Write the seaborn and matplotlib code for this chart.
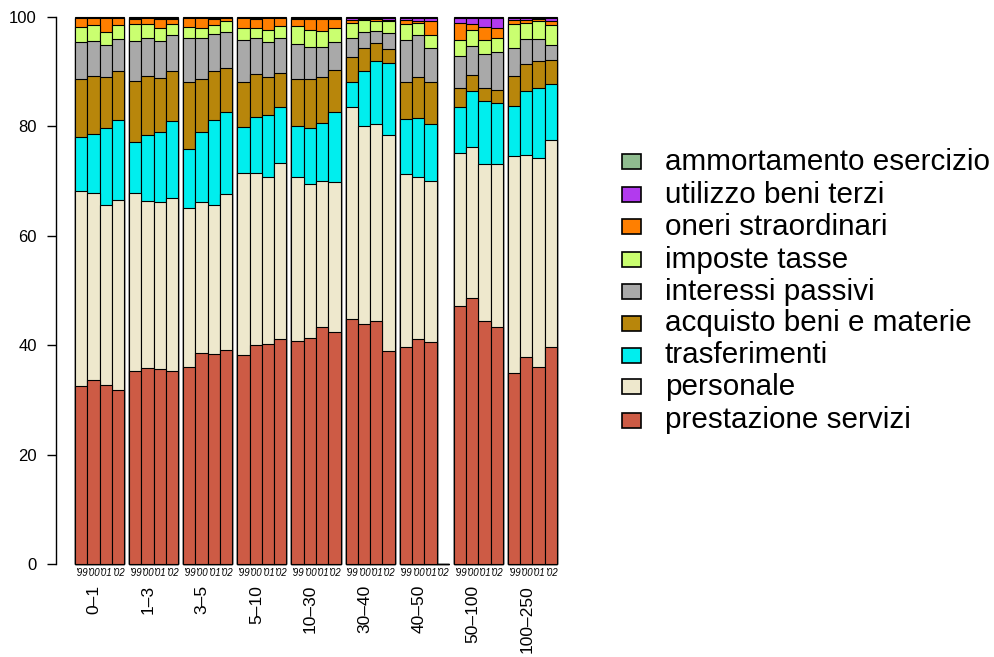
import numpy as np
import pandas as pd
import matplotlib
matplotlib.use("Agg")
import matplotlib.pyplot as plt
from matplotlib.patches import Rectangle
import seaborn as sns

# ===============================
# Data (percent of total spending)
# ===============================
groups = ['0\u20131', '1\u20133', '3\u20135', '5\u201310', '10\u201330',
          '30\u201340', '40\u201350', '50\u2013100', '100\u2013250']
years = ["'99", "'00", "'01", "'02"]

categories = ['prestazione servizi', 'personale', 'trasferimenti',
              'acquisto beni e materie', 'interessi passivi', 'imposte tasse',
              'oneri straordinari', 'utilizzo beni terzi', 'ammortamento esercizio']

prestazione = [32.5, 33.6, 32.7, 31.9, 35.2, 35.8, 35.6, 35.3, 36.0, 38.6, 38.4, 39.1,
               38.2, 40.0, 40.3, 41.1, 40.8, 41.3, 43.3, 42.4, 44.7, 43.9, 44.5, 39.0,
               39.7, 41.1, 40.6, 0, 47.1, 48.6, 44.5, 43.3, 34.9, 37.8, 36.0, 39.6]
personale = [35.6, 34.3, 32.9, 34.6, 32.7, 30.5, 30.5, 31.7, 29.1, 27.5, 27.2, 28.5,
             33.3, 31.4, 30.4, 32.3, 30.0, 28.1, 26.7, 27.5, 38.9, 36.1, 36.0, 39.4,
             31.6, 29.7, 29.5, 0, 28.0, 27.7, 28.7, 29.8, 39.7, 36.9, 38.2, 38.0]
trasferimenti = [10.0, 10.7, 14.1, 14.6, 9.3, 12.1, 12.8, 14.0, 10.8, 12.9, 15.5, 15.0,
                 8.4, 10.3, 11.3, 10.1, 9.3, 10.3, 10.6, 12.7, 4.5, 10.2, 11.5, 13.1,
                 10.0, 10.8, 10.3, 0, 8.5, 10.1, 11.4, 11.2, 9.2, 11.8, 12.9, 10.2]
acquisto = [10.6, 10.7, 9.3, 9.1, 11.1, 10.9, 9.9, 9.1, 12.2, 9.7, 9.0, 8.0,
            8.2, 7.9, 7.0, 6.2, 8.6, 8.9, 8.4, 7.7, 4.6, 4.2, 3.3, 2.7,
            6.9, 7.5, 7.7, 0, 3.4, 3.0, 2.5, 2.3, 5.5, 4.9, 4.8, 4.4]
interessi = [6.7, 6.4, 5.8, 5.7, 7.3, 6.9, 6.9, 6.6, 8.1, 7.4, 6.8, 6.7,
             7.7, 6.5, 6.5, 6.5, 6.3, 5.9, 5.6, 5.1, 3.4, 2.9, 2.2, 2.8,
             7.6, 7.7, 6.3, 0, 5.9, 5.3, 6.1, 7.0, 5.1, 4.6, 4.1, 2.6]
imposte = [2.7, 2.8, 2.5, 2.7, 3.1, 2.6, 2.3, 2.1, 2.0, 1.8, 1.7, 2.0,
           2.2, 1.9, 2.2, 2.2, 3.4, 3.2, 2.9, 2.6, 2.8, 2.1, 1.8, 2.3,
           3.0, 2.1, 2.3, 0, 2.9, 2.9, 2.6, 2.5, 4.3, 2.9, 3.3, 3.7]
oneri = [1.7, 1.3, 2.5, 1.2, 0.9, 1.0, 1.7, 0.9, 1.6, 1.9, 1.0, 0.5,
         1.8, 1.6, 2.1, 1.4, 1.2, 2.0, 2.1, 1.6, 0.6, 0.3, 0.3, 0.2,
         0.6, 0.3, 2.5, 0, 3.1, 1.1, 2.3, 1.8, 0.7, 0.6, 0.3, 0.8]
utilizzo = [0.1, 0.1, 0.1, 0.1, 0.2, 0.1, 0.2, 0.2, 0.1, 0.1, 0.2, 0.1,
            0.1, 0.2, 0.1, 0.1, 0.3, 0.2, 0.2, 0.2, 0.4, 0.2, 0.3, 0.4,
            0.5, 0.7, 0.7, 0, 1.0, 1.2, 1.8, 2.0, 0.5, 0.4, 0.3, 0.6]
ammortamento = [0.1, 0.1, 0.1, 0.1, 0.2, 0.1, 0.1, 0.1, 0.1, 0.1, 0.2, 0.1,
                0.1, 0.2, 0.1, 0.1, 0.1, 0.1, 0.2, 0.2, 0.1, 0.1, 0.1, 0.1,
                0.1, 0.1, 0.1, 0, 0.1, 0.1, 0.1, 0.1, 0.1, 0.1, 0.1, 0.1]

series = [prestazione, personale, trasferimenti, acquisto, interessi,
          imposte, oneri, utilizzo, ammortamento]
colors = ['#CD5B45', '#EEE8CD', '#00EEEE', '#B8860B', '#A9A9A9',
          '#CAFF70', '#FF7F00', '#B23AEE', '#8FBC8F']

# ===============================
# Build long table
# ===============================
n_years = len(years)
space = 0.4
pos = [space + g * (n_years + space) + k + 0.5
       for g in range(len(groups)) for k in range(n_years)]

df = pd.DataFrame({c: v for c, v in zip(categories, series)})
df['pos'] = pos
cum = df[categories].cumsum(axis=1)

# ===============================
# Plot
# ===============================
sns.set_style('white', rc={'text.color': 'black', 'ytick.color': 'black',
                           'xtick.color': 'black', 'axes.labelcolor': 'black',
                           'axes.edgecolor': 'black'})
plt.rcParams['font.family'] = ['Liberation Sans', 'DejaVu Sans']

fig = plt.figure(figsize=(9.95, 6.57), dpi=100)
ax = fig.add_axes([55.7 / 995, 93 / 657, 520.6 / 995, 547 / 657])

# draw cumulative totals from the top layer down
for cat, col in zip(categories[::-1], colors[::-1]):
    sns.barplot(x=df['pos'], y=cum[cat], native_scale=True, orient='x',
                width=1, color=col, saturation=1, edgecolor='black',
                linewidth=0.8, errorbar=None, ax=ax)

for p in ax.patches:
    p.set_clip_on(False)

ax.set_xlim(-1.168, 41.168)
ax.set_ylim(0, 100)
ax.set_xlabel('')
ax.set_ylabel('')
ax.set_xticks([])
ax.set_yticks([0, 20, 40, 60, 80, 100])
ax.tick_params(axis='y', length=6.5, width=1, pad=7, labelsize=12,
               left=True, colors='black')
for s in ['top', 'right', 'bottom']:
    ax.spines[s].set_visible(False)
ax.spines['left'].set_linewidth(1)
ax.spines['left'].set_color('black')

# year labels under each bar
for i, x in enumerate(pos):
    ax.text(x, -1.6, years[i % n_years], ha='center', va='center',
            fontsize=7, style='italic', clip_on=False)

# group labels (rotated)
for g, name in enumerate(groups):
    xg = space + g * (n_years + space) + 1.55
    ax.text(xg, -3.85, name, rotation=90, ha='center', va='top',
            fontsize=12.5, clip_on=False)

# legend on the right (top entry = last category)
row_y = [161.7, 195, 226.7, 260, 291.7, 323.3, 355, 386.7, 420]
for r, (cat, col) in enumerate(zip(categories[::-1], colors[::-1])):
    yc = 1 - row_y[r] / 657
    fig.patches.append(Rectangle((622 / 995, yc - 7.5 / 657), 19 / 995, 15 / 657,
                                 facecolor=col, edgecolor='black', linewidth=1.2,
                                 transform=fig.transFigure, figure=fig))
    fig.text(665 / 995, yc, cat, ha='left', va='center', fontsize=21.3)

fig.savefig('out.png', dpi=100)
